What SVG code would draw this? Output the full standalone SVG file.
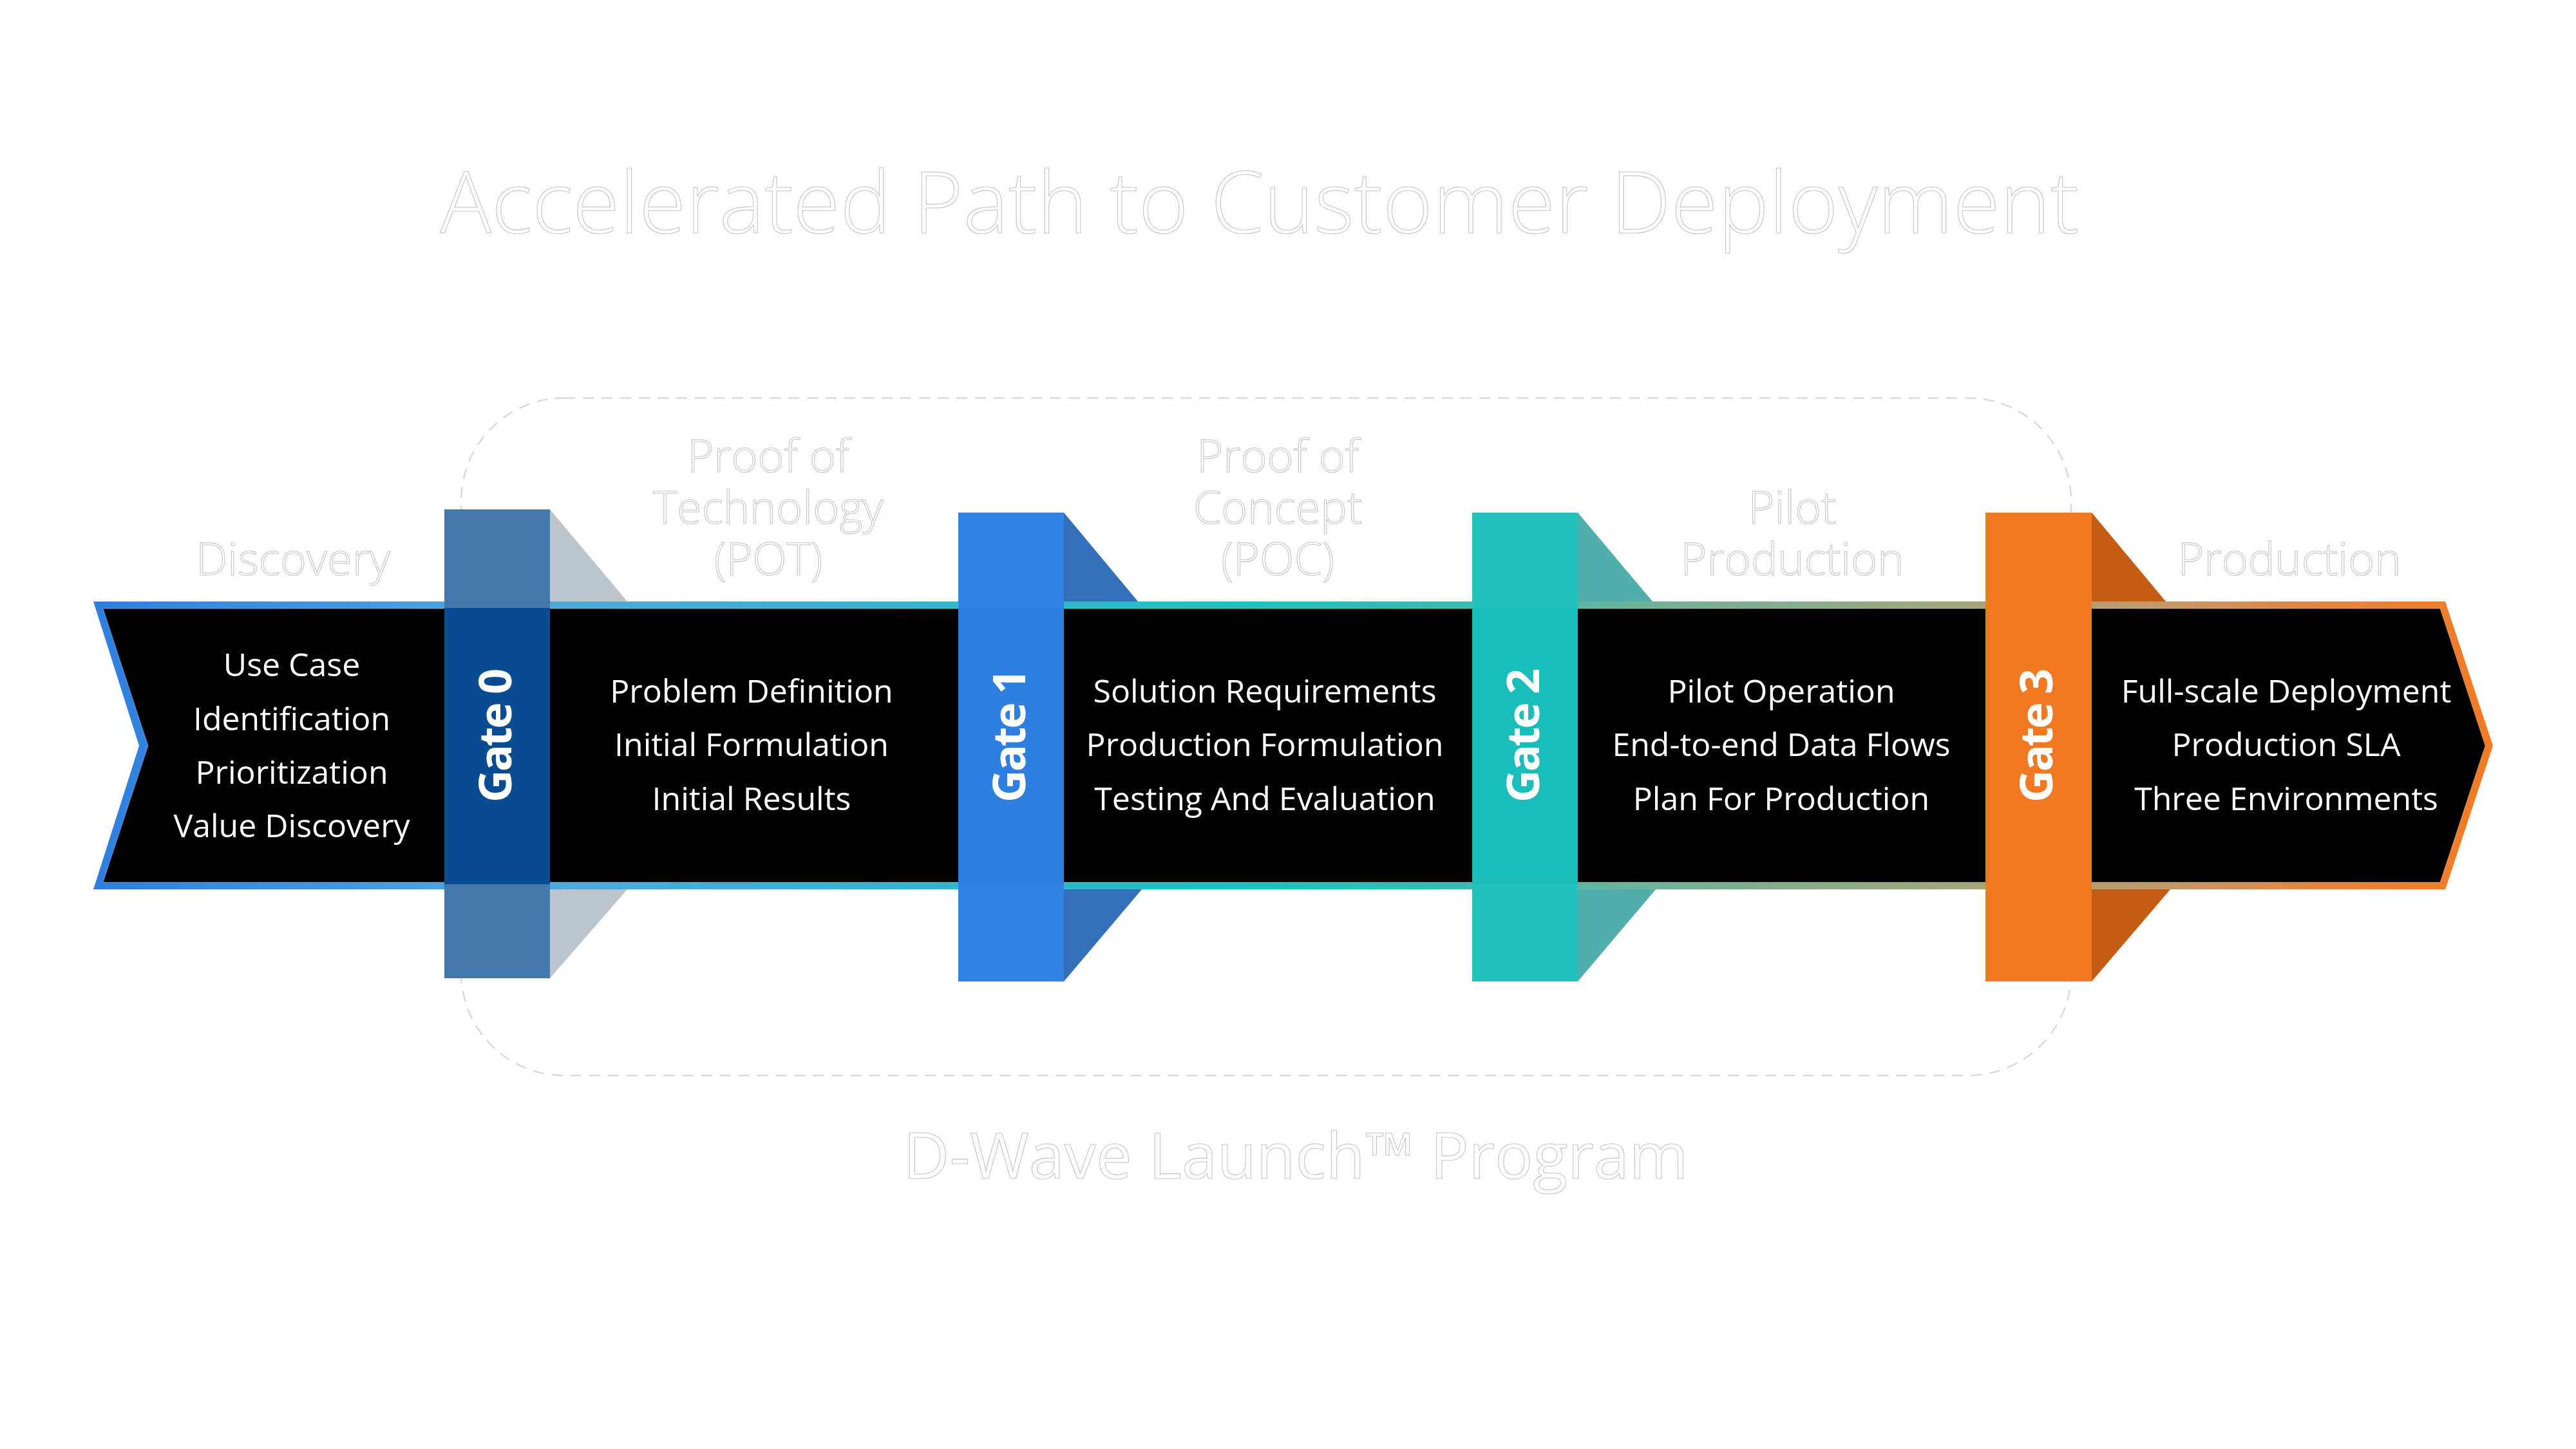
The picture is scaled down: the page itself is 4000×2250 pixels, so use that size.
<svg xmlns="http://www.w3.org/2000/svg" width="4000" height="2250" viewBox="0 0 4000 2250">
  <defs>
    <linearGradient id="bandGrad" gradientUnits="userSpaceOnUse" x1="145" y1="0" x2="3871" y2="0">
      <stop offset="0" stop-color="#2E7FE0"/>
      <stop offset="0.18" stop-color="#4FA9DF"/>
      <stop offset="0.35" stop-color="#36B3CF"/>
      <stop offset="0.48" stop-color="#22BFC0"/>
      <stop offset="0.58" stop-color="#3CBAB0"/>
      <stop offset="0.64" stop-color="#6BB39A"/>
      <stop offset="0.78" stop-color="#A2A67A"/>
      <stop offset="0.86" stop-color="#C3996A"/>
      <stop offset="0.93" stop-color="#E4843C"/>
      <stop offset="1" stop-color="#F47A22"/>
    </linearGradient>
  </defs>
  <style>
    .ghost { fill:#ffffff; stroke:#c6c6c6; stroke-width:1.1px; font-family:'Open Sans','Noto Sans','Liberation Sans',sans-serif; font-weight:300; text-anchor:middle; }
    .phase { font-size:70px; }
    .body { fill:#ffffff; font-family:'Open Sans','Noto Sans','Liberation Sans',sans-serif; font-size:50px; font-weight:400; text-anchor:middle; }
    .gate { fill:#ffffff; font-family:'Open Sans','Noto Sans','Liberation Sans',sans-serif; font-size:70px; font-weight:700; letter-spacing:-3px; text-anchor:start; }
    .dash { fill:none; stroke:#dadada; stroke-width:2.5; stroke-dasharray:17 12; }
  </style>
  <rect width="4000" height="2250" fill="#ffffff"/>

  <g id="title">
    <text class="ghost" x="1956" y="362" font-size="133" textLength="2545" lengthAdjust="spacingAndGlyphs">Accelerated Path to Customer Deployment</text>
  </g>

  <g id="launch-program">
    <rect class="dash" x="716" y="618" width="2500" height="1052" rx="160" ry="160"/>
    <text class="ghost" x="2012" y="1830" font-size="99" style="font-weight:400">D-Wave Launch™ Program</text>
  </g>

  <g id="shadows">
    <polygon points="854,791 974,934 854,934" fill="#BCC4CC"/>
    <polygon points="854,1381 974,1381 854,1519" fill="#BCC4CC"/>
    <polygon points="1652,796 1767,934 1652,934" fill="#3470BA"/>
    <polygon points="1652,1381 1773,1381 1652,1524" fill="#3470BA"/>
    <polygon points="2450,796 2566,934 2450,934" fill="#52ADAD"/>
    <polygon points="2450,1381 2571,1381 2450,1524" fill="#52ADAD"/>
    <polygon points="3248,796 3363,934 3248,934" fill="#C55C14"/>
    <polygon points="3248,1381 3370,1381 3248,1524" fill="#C55C14"/>
  </g>

  <g id="connectors">
    <polygon points="145,934 3797,934 3871,1158 3797,1381 145,1381 216,1158" fill="url(#bandGrad)"/>
    <polygon points="160,945 3789,945 3859,1158 3789,1370 160,1370 230,1158" fill="#000000" stroke="#ffffff" stroke-opacity="0.18" stroke-width="2"/>
  </g>

  <g id="discovery">
    <text class="ghost phase" x="455" y="893">Discovery</text>
    <text class="body" x="453" y="1050">Use Case</text>
    <text class="body" x="453" y="1134">Identification</text>
    <text class="body" x="453" y="1217">Prioritization</text>
    <text class="body" x="453" y="1300">Value Discovery</text>
  </g>

  <g id="pot">
    <text class="ghost phase" x="1193" y="733">Proof of</text>
    <text class="ghost phase" x="1193" y="813">Technology</text>
    <text class="ghost phase" x="1193" y="893">(POT)</text>
    <text class="body" x="1167" y="1091">Problem Definition</text>
    <text class="body" x="1167" y="1174">Initial Formulation</text>
    <text class="body" x="1167" y="1258">Initial Results</text>
  </g>

  <g id="poc">
    <text class="ghost phase" x="1984" y="733">Proof of</text>
    <text class="ghost phase" x="1984" y="813">Concept</text>
    <text class="ghost phase" x="1984" y="893">(POC)</text>
    <text class="body" x="1964" y="1091">Solution Requirements</text>
    <text class="body" x="1964" y="1174">Production Formulation</text>
    <text class="body" x="1964" y="1258">Testing And Evaluation</text>
  </g>

  <g id="pilot">
    <text class="ghost phase" x="2783" y="813">Pilot</text>
    <text class="ghost phase" x="2783" y="893">Production</text>
    <text class="body" x="2766" y="1091">Pilot Operation</text>
    <text class="body" x="2766" y="1174">End-to-end Data Flows</text>
    <text class="body" x="2766" y="1258">Plan For Production</text>
  </g>

  <g id="production">
    <text class="ghost phase" x="3555" y="893">Production</text>
    <text class="body" x="3550" y="1091">Full-scale Deployment</text>
    <text class="body" x="3550" y="1174">Production SLA</text>
    <text class="body" x="3550" y="1258">Three Environments</text>
  </g>

  <g id="gate0">
    <rect x="690" y="791" width="164" height="728" fill="#4478AA"/>
    <rect x="690" y="944" width="164" height="429" fill="#0A4C91"/>
    <text class="gate" transform="translate(794,1246) rotate(-90)">Gate 0</text>
  </g>
  <g id="gate1">
    <rect x="1488" y="796" width="164" height="728" fill="#3282E1"/>
    <rect x="1488" y="944" width="164" height="429" fill="#2E7FE0"/>
    <text class="gate" transform="translate(1592,1246) rotate(-90)">Gate 1</text>
  </g>
  <g id="gate2">
    <rect x="2286" y="796" width="164" height="728" fill="#24C1BD"/>
    <rect x="2286" y="944" width="164" height="429" fill="#19BDB9"/>
    <text class="gate" transform="translate(2390,1246) rotate(-90)">Gate 2</text>
  </g>
  <g id="gate3">
    <rect x="3083" y="796" width="165" height="728" fill="#F47A22"/>
    <rect x="3083" y="944" width="165" height="429" fill="#F27922"/>
    <text class="gate" transform="translate(3187,1246) rotate(-90)">Gate 3</text>
  </g>
</svg>
